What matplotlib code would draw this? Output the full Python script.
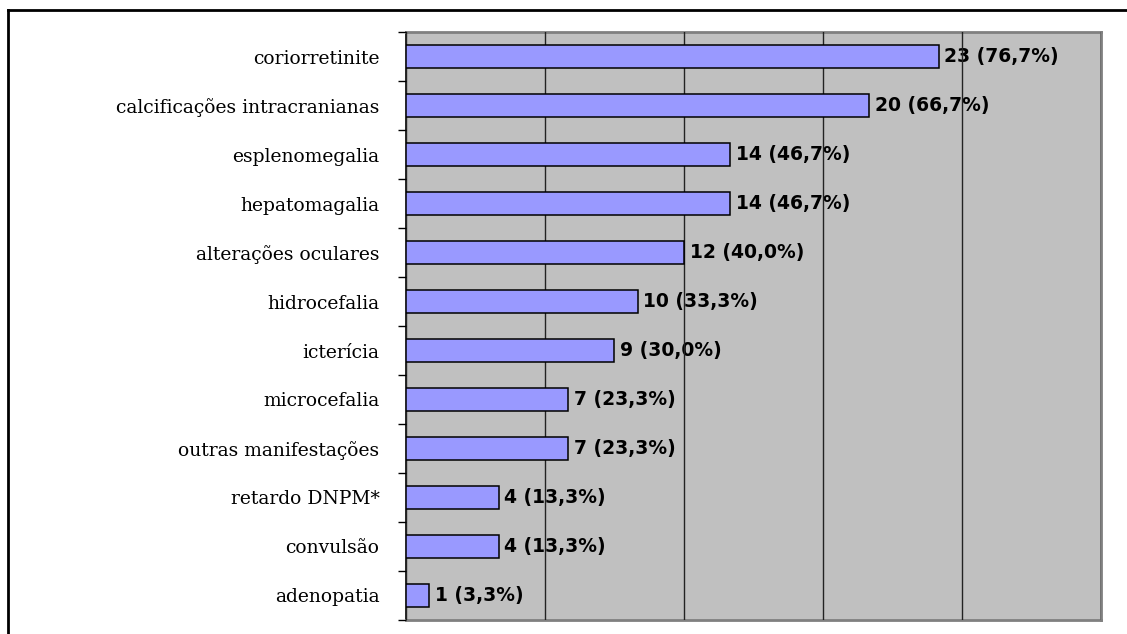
import matplotlib
matplotlib.use("Agg")
import matplotlib.pyplot as plt
from matplotlib.lines import Line2D

categorias = ["coriorretinite", "calcificações intracranianas", "esplenomegalia",
              "hepatomagalia", "alterações oculares", "hidrocefalia", "icterícia",
              "microcefalia", "outras manifestações", "retardo DNPM*", "convulsão",
              "adenopatia"]
casos = [23, 20, 14, 14, 12, 10, 9, 7, 7, 4, 4, 1]
percentuais = ["76,7%", "66,7%", "46,7%", "46,7%", "40,0%", "33,3%", "30,0%",
               "23,3%", "23,3%", "13,3%", "13,3%", "3,3%"]

fig = plt.figure(figsize=(11.27, 6.34), dpi=100)
ax = fig.add_axes([0.3602, 0.0221, 0.9769 - 0.3602, 0.9495 - 0.0221])
ax.set_facecolor("#C0C0C0")

pos = list(range(len(categorias)))
ax.barh(pos, casos, height=0.45, color="#9999FF", edgecolor="black", linewidth=1.1, zorder=3)

for p, v, pc in zip(pos, casos, percentuais):
    ax.annotate(f"{v} ({pc})", (v, p), xytext=(4, 0), textcoords="offset points",
                va="center", ha="left", fontsize=13.5, fontweight="bold",
                family="DejaVu Sans", zorder=2)

ax.set_xlim(0, 30)
ax.set_ylim(len(categorias) - 0.5, -0.5)
ax.set_xticks([0, 6, 12, 18, 24, 30])
ax.xaxis.grid(True, color="#222222", linewidth=1, zorder=2.5)
ax.set_axisbelow(False)
ax.tick_params(axis="x", length=0, labelbottom=False)

# ticks nas divisas das categorias, rótulos no meio
ax.set_yticks([i - 0.5 for i in range(len(categorias) + 1)])
ax.set_yticklabels([])
ax.tick_params(axis="y", which="major", direction="out", length=6, width=1, color="black")
ax.set_yticks(pos, minor=True)
ax.set_yticklabels(categorias, minor=True, family="DejaVu Serif", fontsize=13.5)
ax.tick_params(axis="y", which="minor", length=0, pad=19)

ax.spines["left"].set_color("black")
ax.spines["left"].set_linewidth(1.2)
for s in ["top", "right", "bottom"]:
    ax.spines[s].set_color("#808080")
    ax.spines[s].set_linewidth(2)

# moldura externa
fig.add_artist(Line2D([0.0067, 0.0067], [0.0, 0.9842], color="black", linewidth=2,
                      transform=fig.transFigure))
fig.add_artist(Line2D([0.0067, 1.0], [0.9842, 0.9842], color="black", linewidth=2,
                      transform=fig.transFigure))

fig.savefig("out.png", dpi=100)
